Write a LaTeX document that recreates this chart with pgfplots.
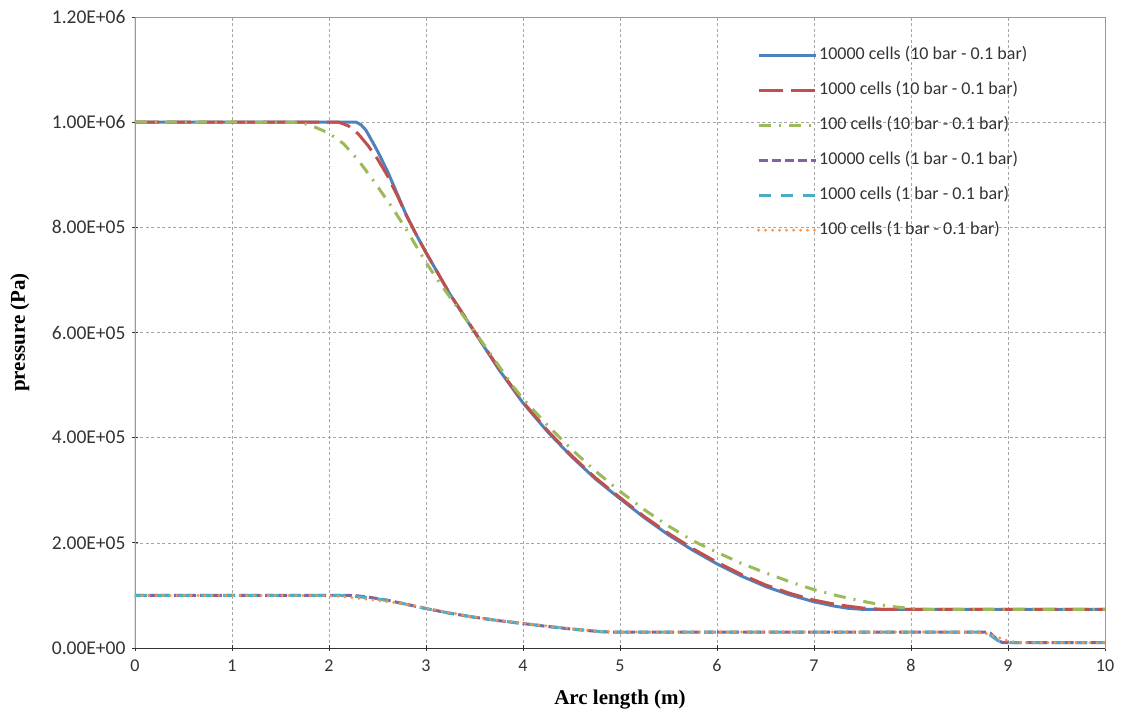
\documentclass[border=0pt]{standalone}
\usepackage{pgfplots}
\pgfplotsset{compat=1.18}
\usepackage{fontspec}
\setmainfont{Carlito}
\newfontfamily\tnr{Liberation Serif}
\definecolor{cblue}{HTML}{4F81BD}
\definecolor{cred}{HTML}{C0504D}
\definecolor{cgreen}{HTML}{9BBB59}
\definecolor{cpurple}{HTML}{8064A2}
\definecolor{ccyan}{HTML}{4BACC6}
\definecolor{corange}{HTML}{F79646}
\begin{document}
\begin{tikzpicture}
\path[use as bounding box] (-135bp,-70bp) rectangle (991bp,648bp);
\begin{axis}[
  at={(0,0)}, anchor=south west,
  scale only axis, width=970bp, height=631bp,
  xmin=0, xmax=10, ymin=0, ymax=1200000,
  xtick={0,1,...,10},
  xticklabels={0,1,2,3,4,5,6,7,8,9,10},
  ytick={0,200000,400000,600000,800000,1000000,1200000},
  yticklabels={0.00E+00,2.00E+05,4.00E+05,6.00E+05,8.00E+05,1.00E+06,1.20E+06},
  scaled y ticks=false,
  tick pos=left,
  tick label style={font=\fontsize{18bp}{20bp}\selectfont, color=black!80},
  yticklabel style={xshift=-3bp, font=\fontsize{19.5bp}{21bp}\selectfont},
  xticklabel style={yshift=-5bp},
  tick align=center, major tick length=6bp,
  tick style={black!80, line width=0.8bp},
  grid=major,
  major grid style={gray!70, dash pattern=on 3bp off 2.5bp, line width=0.6bp},
  axis line style={gray!80, line width=0.8bp},
  xlabel={\tnr\bfseries Arc length (m)},
  ylabel={\tnr\bfseries pressure (Pa)},
  xlabel style={at={(axis description cs:0.5,-0.0824)}, anchor=center, font=\fontsize{21bp}{24bp}\selectfont},
  ylabel style={at={(axis description cs:-0.1186,0.5)}, anchor=center, font=\fontsize{21bp}{24bp}\selectfont},
  legend cell align=left,
  legend style={draw=none, fill=none, at={(0.641,0.954)}, anchor=north west,
    inner sep=0pt, row sep=17bp, column sep=1bp,
    nodes={font=\fontsize{18bp}{20bp}\selectfont, text height=12bp, text depth=4bp, inner sep=1bp, text=black!80}},
  legend image code/.code={\draw[#1] (0bp,0bp) -- (57bp,0bp);},
]
\addplot[cblue, line width=3bp] coordinates {
(0,1000000) (1,1000000) (2,1000000) (2.28,1000000) (2.33,995000) (2.38,985000)
(2.45,962000) (2.5,945000) (2.6,908000) (2.7,865000) (2.8,822000) (2.9,786000)
(3.0,752000) (3.25,672000) (3.5,601000) (3.75,530000) (4.0,466000) (4.25,412000)
(4.5,364000) (4.75,321000) (5.0,284000) (5.25,248000) (5.5,215000) (5.75,186000)
(6.0,160000) (6.25,137000) (6.5,117000) (6.75,101000) (7.0,88000) (7.2,80000)
(7.35,75500) (7.5,73500) (8,73500) (9,73500) (10,73500)};
\addlegendentry{10000 cells (10 bar - 0.1 bar)}
\addplot[cred, line width=3bp, dash pattern=on 24bp off 8bp] coordinates {
(0,1000000) (2.1,1000000) (2.2,993000) (2.3,978000) (2.4,956000) (2.5,930000)
(2.6,899000) (2.7,862000) (2.8,822000) (2.9,786000) (3.0,752000) (3.25,672000)
(3.5,602000) (3.75,532000) (4.0,468000) (4.25,414000) (4.5,366000) (4.75,323000)
(5.0,286000) (5.25,250000) (5.5,218000) (5.75,189000) (6.0,163000) (6.25,140000)
(6.5,120000) (6.75,104000) (7.0,91000) (7.25,82000) (7.5,76000) (7.7,73500) (10,73500)};
\addlegendentry{1000 cells (10 bar - 0.1 bar)}
\addplot[cgreen, line width=3bp, dash pattern=on 12bp off 8bp on 2bp off 8bp] coordinates {
(0,1000000) (1.7,1000000) (1.85,991000) (2.0,979000) (2.15,959000) (2.3,928000)
(2.45,891000) (2.65,838000) (2.8,795000) (3.0,733000) (3.15,692000) (3.4,628000)
(3.65,563000) (3.9,497000) (4.0,474000) (4.25,424000) (4.5,378000) (4.75,336000)
(5.0,298000) (5.25,263000) (5.5,232000) (5.75,204000) (6.0,182000) (6.25,161000)
(6.5,143000) (6.75,126000) (7.0,111000) (7.25,99000) (7.5,89000) (7.75,80000)
(8.0,75000) (8.15,73500) (10,73500)};
\addlegendentry{100 cells (10 bar - 0.1 bar)}
\addplot[cpurple, line width=3bp, dash pattern=on 9bp off 4bp] coordinates {
(0,100000) (2.2,100000) (2.28,99500) (2.35,98000) (2.45,95500) (2.6,91000)
(2.75,85000) (3.0,75000) (3.25,66000) (3.5,58500) (3.75,52000) (4.0,46500)
(4.25,41000) (4.5,36000) (4.65,33500) (4.8,31000) (4.9,30300) (8.78,30300)
(8.82,28000) (8.86,21000) (8.9,14000) (8.94,10500) (8.98,10000) (10,10000)};
\addlegendentry{10000 cells (1 bar - 0.1 bar)}
\addplot[ccyan, line width=3bp, dash pattern=on 12bp off 10bp] coordinates {
(0,100000) (2.1,100000) (2.2,99300) (2.3,97500) (2.45,94800) (2.6,90500)
(2.75,85000) (3.0,75000) (3.25,66000) (3.5,58500) (3.75,52000) (4.0,46500)
(4.25,41200) (4.5,36300) (4.65,33800) (4.8,31300) (4.95,30300) (8.75,30300)
(8.8,27000) (8.85,20000) (8.9,13500) (8.95,10500) (9.0,10000) (10,10000)};
\addlegendentry{1000 cells (1 bar - 0.1 bar)}
\addplot[corange, line width=3.2bp, line cap=round, dash pattern=on 0bp off 7bp] coordinates {
(0,100000) (1.9,100000) (2.05,98800) (2.2,96500) (2.35,93500) (2.5,90500)
(2.75,84500) (3.0,76000) (3.25,67000) (3.5,59000) (3.75,52500) (4.0,47000)
(4.25,41800) (4.5,36800) (4.7,33000) (4.9,31000) (5.1,30300) (8.6,30300)
(8.7,29500) (8.8,26500) (8.9,20000) (9.0,13500) (9.1,10800) (9.2,10000) (10,10000)};
\addlegendentry{100 cells (1 bar - 0.1 bar)}
\draw[black!80, line width=1bp] (rel axis cs:0,1) -- (rel axis cs:0,0) -- (rel axis cs:1,0);
\end{axis}
\end{tikzpicture}
\end{document}
